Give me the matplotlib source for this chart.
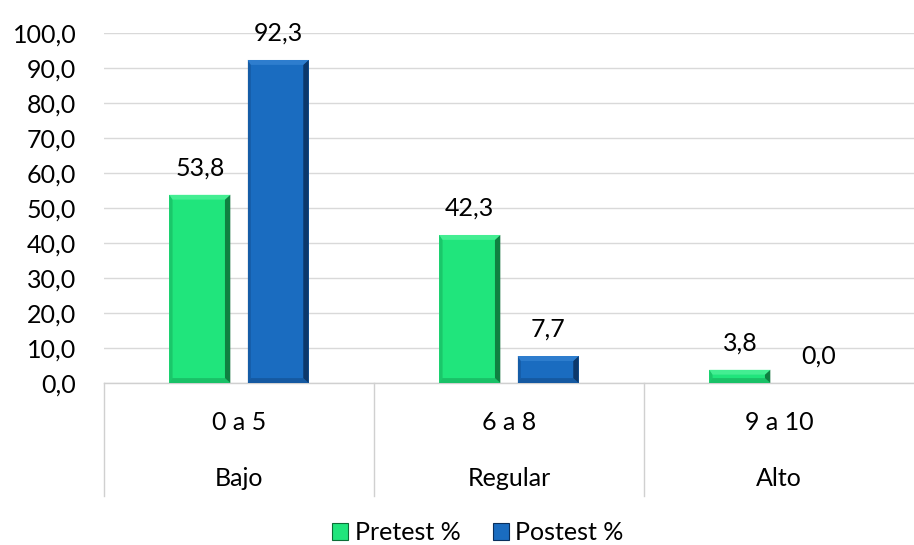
import matplotlib
matplotlib.use("Agg")
import matplotlib.pyplot as plt
from matplotlib.patches import Polygon, Rectangle
from matplotlib.lines import Line2D
import matplotlib.transforms as mtransforms

# Data
ranges = ["0 a 5", "6 a 8", "9 a 10"]
levels = ["Bajo", "Regular", "Alto"]
pretest = [53.8, 42.3, 3.8]
postest = [92.3, 7.7, 0.0]
series_names = ["Pretest %", "Postest %"]
yticks = [0, 10, 20, 30, 40, 50, 60, 70, 80, 90, 100]

plt.rcParams["font.family"] = ["Lato", "DejaVu Sans"]
FS = 18

green = "#20E57C"
green_dark = "#0C6E37"
green_light = "#5CF5A2"
blue = "#1A6CC0"
blue_dark = "#0A2F5C"
blue_light = "#3D8AD8"

fig = plt.figure(figsize=(9.14, 5.45), dpi=100)
ax = fig.add_axes([104 / 914, 162 / 545, 810 / 914, 350 / 545])

bar_w = 0.226
offset = 0.145
xs = range(len(ranges))

bars_pre = ax.bar([x - offset for x in xs], pretest, width=bar_w, color=green, zorder=3)
bars_post = ax.bar([x + offset for x in xs], postest, width=bar_w, color=blue, zorder=3)


def bevel(bars, dark, light):
    # Excel-style bevel: darker right edge, lighter top edge
    for r in bars:
        x0, w, h = r.get_x(), r.get_width(), r.get_height()
        if h <= 0:
            continue
        dx = 0.02
        dy = min(1.4, h / 2.5)
        x1 = x0 + w
        right = Polygon([(x1 - dx, dy), (x1, 0), (x1, h), (x1 - dx, h - dy)],
                        closed=True, facecolor=dark, edgecolor="none", zorder=4, alpha=0.85)
        left = Polygon([(x0, 0), (x0 + dx * 0.6, dy), (x0 + dx * 0.6, h - dy), (x0, h)],
                       closed=True, facecolor=dark, edgecolor="none", zorder=4, alpha=0.25)
        top = Polygon([(x0, h), (x1, h), (x1 - dx, h - dy), (x0 + dx * 0.6, h - dy)],
                      closed=True, facecolor=light, edgecolor="none", zorder=4, alpha=0.6)
        bottom = Polygon([(x0, 0), (x1, 0), (x1 - dx, dy), (x0 + dx * 0.6, dy)],
                         closed=True, facecolor=dark, edgecolor="none", zorder=4, alpha=0.3)
        for p in (right, left, top, bottom):
            ax.add_patch(p)


bevel(bars_pre, green_dark, green_light)
bevel(bars_post, blue_dark, blue_light)


def fmt(v):
    return f"{v:.1f}".replace(".", ",")


for bars, vals in ((bars_pre, pretest), (bars_post, postest)):
    for r, v in zip(bars, vals):
        ax.annotate(fmt(v), (r.get_x() + r.get_width() / 2, v),
                    xytext=(0, 14), textcoords="offset points",
                    ha="center", va="baseline", fontsize=FS, color="#000000", zorder=5)

ax.set_xlim(-0.5, 2.5)
ax.set_ylim(0, 100)
ax.set_yticks(yticks)
ax.set_yticklabels([fmt(v) for v in yticks], fontsize=FS)
ax.tick_params(axis="y", length=0, pad=20)
ax.set_xticks([])
ax.grid(axis="y", color="#D9D9D9", linewidth=1.0, zorder=0)
for s in ("top", "right", "left"):
    ax.spines[s].set_visible(False)
ax.spines["bottom"].set_color("#D0D0D0")
ax.spines["bottom"].set_linewidth(1.0)
ax.set_axisbelow(True)

# Two-level category axis
trans = mtransforms.blended_transform_factory(ax.transData, ax.transAxes)
for x, r, l in zip(xs, ranges, levels):
    ax.text(x, -40 / 350, r, transform=trans, ha="center", va="center", fontsize=FS)
    ax.text(x, -95 / 350, l, transform=trans, ha="center", va="center", fontsize=FS)
for xb in (0, 1 / 3, 2 / 3):
    ax.add_line(Line2D([xb, xb], [0, -113 / 350], transform=ax.transAxes,
                       color="#D0D0D0", linewidth=1.0, clip_on=False))

# Legend
handles = [Rectangle((0, 0), 1, 1, facecolor=green, edgecolor=green_dark, linewidth=0.8),
           Rectangle((0, 0), 1, 1, facecolor=blue, edgecolor=blue_dark, linewidth=0.8)]
fig.legend(handles, series_names, loc="center", bbox_to_anchor=(478 / 914, 1 - 533 / 545),
           ncol=2, frameon=False, fontsize=FS, handlelength=0.65, handleheight=0.65,
           handletextpad=0.25, columnspacing=1.3, borderpad=0.0)

fig.savefig("out.png", dpi=100)
